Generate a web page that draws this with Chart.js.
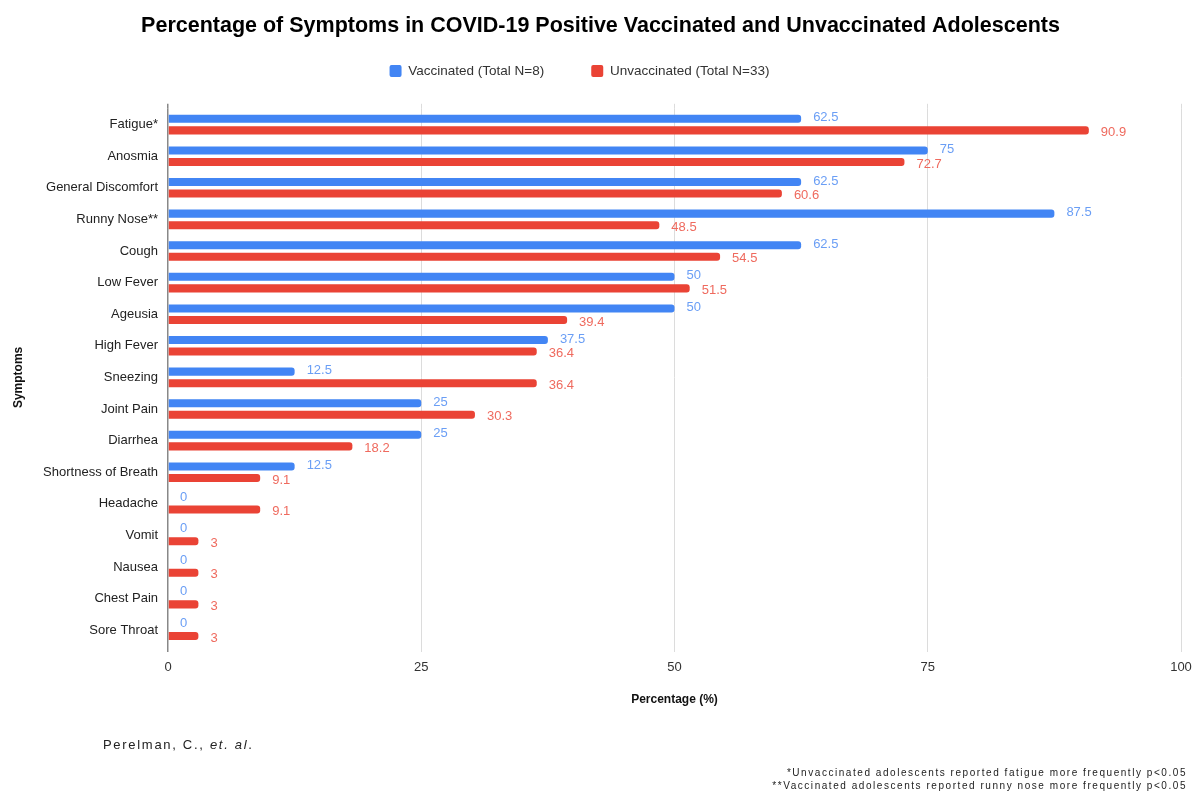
<!DOCTYPE html>
<html>
<head>
<meta charset="utf-8">
<script src="https://cdn.jsdelivr.net/npm/chart.js@4.4.0/dist/chart.umd.min.js"></script>
<style>
    body { margin: 0; background: #fff; }
    #wrap { position: relative; width: 1194px; height: 791px; font-family: "Liberation Sans", Arial, sans-serif; }
    #credit { position: absolute; left: 103px; top: 737px; font-size: 13px; letter-spacing: 1.7px; color: #222; }
    .note { position: absolute; right: 7px; font-size: 10px; letter-spacing: 1.55px; color: #222; white-space: nowrap; }
</style>
</head>
<body>
<div id="wrap">
    <canvas id="symptom-chart" width="1194" height="791"></canvas>
    <div id="credit">Perelman, C., <i>et. al</i>.</div>
    <div class="note" style="top: 767px;">*Unvaccinated adolescents reported fatigue more frequently p&lt;0.05</div>
    <div class="note" style="top: 780px;">**Vaccinated adolescents reported runny nose more frequently p&lt;0.05</div>
</div>
<script>
const symptoms = ['Fatigue*', 'Anosmia', 'General Discomfort', 'Runny Nose**', 'Cough', 'Low Fever', 'Ageusia',
    'High Fever', 'Sneezing', 'Joint Pain', 'Diarrhea', 'Shortness of Breath', 'Headache', 'Vomit', 'Nausea',
    'Chest Pain', 'Sore Throat'];
const vaccinated = [62.5, 75, 62.5, 87.5, 62.5, 50, 50, 37.5, 12.5, 25, 25, 12.5, 0, 0, 0, 0, 0];
const unvaccinated = [90.9, 72.7, 60.6, 48.5, 54.5, 51.5, 39.4, 36.4, 36.4, 30.3, 18.2, 9.1, 9.1, 3, 3, 3, 3];
const xTicks = [0, 25, 50, 75, 100];

const FONT = '"Liberation Sans", Arial, sans-serif';
const labelColors = ['#6a9ef5', '#ef6a5e'];

// value labels right of each bar
const valueLabels = {
    id: 'valueLabels',
    afterDatasetsDraw(chart) {
        const ctx = chart.ctx;
        ctx.save();
        ctx.font = '13px ' + FONT;
        ctx.textAlign = 'left';
        ctx.textBaseline = 'middle';
        chart.data.datasets.forEach((ds, i) => {
            const meta = chart.getDatasetMeta(i);
            ctx.fillStyle = labelColors[i];
            meta.data.forEach((bar, j) => {
                ctx.fillText(String(ds.data[j]), bar.x + 12, bar.y + (i === 0 ? -1 : 2));
            });
        });
        ctx.restore();
    }
};

// grid lines run a little above the plot area, like the original
const gridExtend = {
    id: 'gridExtend',
    afterLayout(chart) {
        // legend sits a bit left of the title in the original
        chart.legend.left -= 21;
        chart.legend.right -= 21;
    },
    beforeDatasetsDraw(chart) {
        const ctx = chart.ctx;
        const x = chart.scales.x;
        const top = chart.chartArea.top;
        ctx.save();
        xTicks.forEach(v => {
            const w = v === 0 ? 1.5 : 1;
            const px = Math.round(x.getPixelForValue(v) - w / 2) + w / 2;  // same snapping as chart.js grid
            ctx.strokeStyle = v === 0 ? '#888' : '#dcdcdc';
            ctx.lineWidth = w;
            ctx.beginPath();
            ctx.moveTo(px, top - 5);
            ctx.lineTo(px, top);
            ctx.stroke();
        });
        ctx.restore();
    }
};

const ctx = document.getElementById('symptom-chart').getContext('2d');
const chart = new Chart(ctx, {
    type: 'bar',
    data: {
        labels: symptoms,
        datasets: [{
            label: 'Vaccinated (Total N=8)',
            data: vaccinated,
            backgroundColor: '#4285f4',
            borderRadius: 3,
            borderSkipped: 'start',
            categoryPercentage: 0.73,
            barPercentage: 0.7
        }, {
            label: 'Unvaccinated (Total N=33)',
            data: unvaccinated,
            backgroundColor: '#ea4335',
            borderRadius: 3,
            borderSkipped: 'start',
            categoryPercentage: 0.73,
            barPercentage: 0.7
        }]
    },
    options: {
        indexAxis: 'y',
        responsive: false,
        animation: false,
        devicePixelRatio: 1,
        layout: {
            padding: { left: 8, right: 1, top: 0, bottom: 75 }
        },
        plugins: {
            title: {
                display: true,
                text: 'Percentage of Symptoms in COVID-19 Positive Vaccinated and Unvaccinated Adolescents',
                color: '#000',
                font: { family: FONT, size: 21.5, weight: 'bold' },
                padding: { top: 13, bottom: -21.5 }
            },
            subtitle: {
                // empty spacer between legend and plot
                display: true,
                text: '',
                weight: 500,
                font: { family: FONT, size: 10 },
                padding: { top: 8, bottom: 1 }
            },
            legend: {
                display: true,
                position: 'top',
                labels: {
                    boxWidth: 12,
                    boxHeight: 12,
                    padding: 47,
                    color: '#333',
                    font: { family: FONT, size: 13.5 },
                    useBorderRadius: true,
                    borderRadius: 2
                }
            },
            tooltip: { enabled: false }
        },
        scales: {
            x: {
                type: 'linear',
                min: 0,
                max: 100,
                afterBuildTicks: (scale) => { scale.ticks = xTicks.map(v => ({ value: v })); },
                afterFit: (scale) => { scale.height = 70; scale.paddingRight = 13; },
                border: { display: false },
                grid: {
                    color: (c) => c.tick && c.tick.value === 0 ? '#888' : '#dcdcdc',
                    lineWidth: (c) => c.tick && c.tick.value === 0 ? 1.5 : 1,
                    tickLength: 6
                },
                ticks: {
                    color: '#333',
                    padding: 8,
                    font: { family: FONT, size: 13 }
                },
                title: {
                    display: true,
                    text: 'Percentage (%)',
                    color: '#111',
                    font: { family: FONT, size: 12, weight: 'bold' },
                    padding: { top: 0, bottom: 9 }
                }
            },
            y: {
                afterFit: (scale) => { scale.width = 160; },
                border: { display: false },
                grid: { display: false, drawTicks: false },
                ticks: {
                    color: '#222',
                    padding: 10,
                    font: { family: FONT, size: 13 }
                },
                title: {
                    display: true,
                    text: 'Symptoms',
                    color: '#111',
                    font: { family: FONT, size: 12, weight: 'bold' },
                    padding: { top: 3, bottom: 0 }
                }
            }
        }
    },
    plugins: [gridExtend, valueLabels]
});
</script>
</body>
</html>
